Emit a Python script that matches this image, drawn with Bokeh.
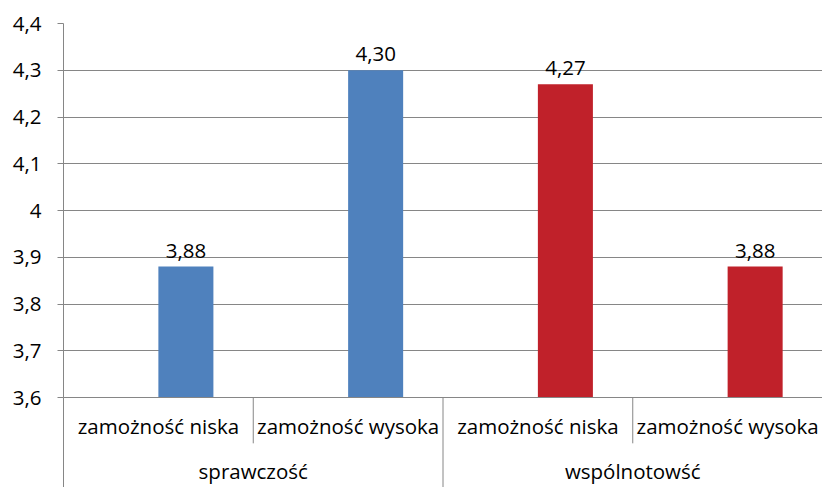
from bokeh.plotting import figure
from bokeh.models import FactorRange, Range1d, FixedTicker, CustomJSTickFormatter, ColumnDataSource
from bokeh.transform import dodge, factor_cmap
from bokeh.core.properties import value
from bokeh.embed import file_html
from bokeh.resources import INLINE

# ---- data ----
groups = ["sprawczość", "sprawczość", "wspólnotowść", "wspólnotowść"]
levels = ["zamożność niska", "zamożność wysoka", "zamożność niska", "zamożność wysoka"]
values = [3.88, 4.30, 4.27, 3.88]
y_ticks = [3.6, 3.7, 3.8, 3.9, 4.0, 4.1, 4.2, 4.3, 4.4]
y_tick_labels = ["3,6", "3,7", "3,8", "3,9", "4", "4,1", "4,2", "4,3", "4,4"]

FONT = "Open Sans"
FS = "20.5px"
GRID = "#868686"
BLUE = "#4F81BD"
RED = "#C0212A"

factors = list(zip(groups, levels))
group_names = list(dict.fromkeys(groups))
labels = [f"{v:.2f}".replace(".", ",") for v in values]

src = ColumnDataSource(dict(x=factors, grp=groups, top=values, label=labels))

p = figure(
    x_range=FactorRange(*factors, range_padding=0, group_padding=0, factor_padding=0),
    y_range=Range1d(y_ticks[0], y_ticks[-1]),
    width=822, height=487,
    output_backend="svg", toolbar_location=None,
    min_border_left=63, min_border_right=0, min_border_top=23, min_border_bottom=89,
)
p.outline_line_color = None
p.background_fill_color = "white"
p.border_fill_color = "white"

# bars (offset right within category, as in original)
p.vbar(x=dodge("x", 0.145, range=p.x_range), top="top", bottom=y_ticks[0], width=0.29,
       source=src, line_color=None,
       fill_color=factor_cmap("grp", palette=[BLUE, RED], factors=group_names, end=1))

p.text(x=dodge("x", 0.145, range=p.x_range), y="top", text="label", source=src,
       text_align="center", text_baseline="alphabetic", y_offset=-16,
       text_font=value(FONT), text_font_size=FS, text_color="black")

# y axis
p.yaxis.ticker = FixedTicker(ticks=y_ticks)
p.yaxis.formatter = CustomJSTickFormatter(args=dict(tvals=y_ticks, tlabels=y_tick_labels), code="""
let best = 0, d = Infinity;
for (let i = 0; i < tvals.length; i++) { const e = Math.abs(tvals[i] - tick); if (e < d) { d = e; best = i; } }
return tlabels[best];
""")
p.yaxis.axis_line_color = GRID
p.yaxis.major_tick_line_color = GRID
p.yaxis.major_tick_out = 6
p.yaxis.major_tick_in = 0
p.yaxis.minor_tick_line_color = None
p.yaxis.major_label_standoff = 16
p.yaxis.major_label_text_font = FONT
p.yaxis.major_label_text_font_size = FS
p.yaxis.major_label_text_color = "black"

p.ygrid.grid_line_color = GRID
p.xgrid.grid_line_color = None

# x axis
xa = p.xaxis[0]
xa.axis_line_color = GRID
xa.major_tick_line_color = None
xa.major_tick_out = 0
xa.major_tick_in = 0
xa.major_label_standoff = 14
xa.major_label_text_font = FONT
xa.major_label_text_font_size = FS
xa.major_label_text_color = "black"
xa.group_text_font = FONT
xa.group_text_font_size = FS
xa.group_text_font_style = "normal"
xa.group_text_color = "black"
xa.separator_line_color = None

# separators below the axis
sub_x = [factors[0], factors[2]]
grp_x = [factors[1]]
p.segment(x0=dodge("x", 0.5, range=p.x_range), x1=dodge("x", 0.5, range=p.x_range),
          y0=y_ticks[0], y1=3.502, source=ColumnDataSource(dict(x=sub_x)),
          line_color=GRID, line_width=1, level="overlay")
p.segment(x0=dodge("x", 0.5, range=p.x_range), x1=dodge("x", 0.5, range=p.x_range),
          y0=y_ticks[0], y1=3.40, source=ColumnDataSource(dict(x=grp_x)),
          line_color=GRID, line_width=1, level="overlay")
p.segment(x0=dodge("x", -0.5, range=p.x_range), x1=dodge("x", -0.5, range=p.x_range),
          y0=y_ticks[0], y1=3.40, source=ColumnDataSource(dict(x=[factors[0]])),
          line_color=GRID, line_width=1, level="overlay")

open("out.html", "w").write(file_html(p, INLINE))
